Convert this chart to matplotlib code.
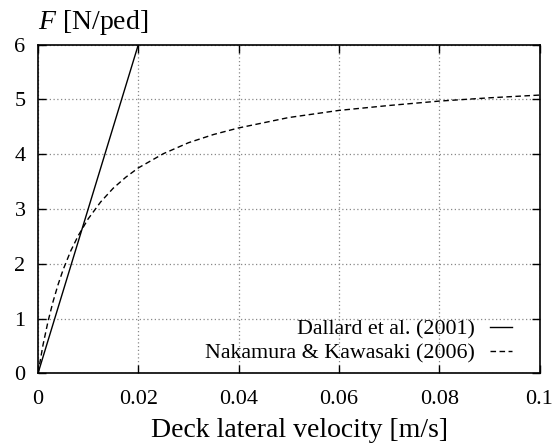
import matplotlib
matplotlib.use("Agg")
import matplotlib.pyplot as plt

plt.rcParams['font.family'] = ['Liberation Serif', 'DejaVu Serif']
plt.rcParams['mathtext.fontset'] = 'custom'
plt.rcParams['mathtext.it'] = 'Liberation Serif:italic'
plt.rcParams['mathtext.rm'] = 'Liberation Serif'

# Dallard et al. (2001): linear
dallard_v = [0.0, 0.02]
dallard_F = [0.0, 6.0]

# Nakamura & Kawasaki (2006): values
nak_v = [0.0, 0.001, 0.002, 0.003, 0.004, 0.005, 0.0065, 0.008, 0.01, 0.0125,
         0.015, 0.0175, 0.02, 0.025, 0.03, 0.035, 0.04, 0.05, 0.06, 0.07,
         0.08, 0.09, 0.1]
nak_F = [0.0, 0.52, 0.95, 1.31, 1.62, 1.89, 2.23, 2.51, 2.82, 3.13,
         3.38, 3.58, 3.75, 4.01, 4.21, 4.36, 4.48, 4.67, 4.80, 4.89,
         4.97, 5.03, 5.08]

xticks = [0, 0.02, 0.04, 0.06, 0.08, 0.1]
xticklabels = ['0', '0.02', '0.04', '0.06', '0.08', '0.1']
yticks = [0, 1, 2, 3, 4, 5, 6]

fig = plt.figure(figsize=(5.55, 4.46), dpi=100)
ax = fig.add_axes([0.0685, 0.163, 0.9036, 0.7368])

ax.plot(dallard_v, dallard_F, color='black', lw=1.0, label='Dallard et al. (2001)')
ax.plot(nak_v, nak_F, color='black', lw=1.0, ls=(0, (4, 2.5)), label='Nakamura & Kawasaki (2006)')

ax.set_xlim(0, 0.1)
ax.set_ylim(0, 6)
ax.set_xticks(xticks)
ax.set_xticklabels(xticklabels, fontsize=16)
ax.set_yticks(yticks)
ax.set_yticklabels([str(v) for v in yticks], fontsize=16)
ax.tick_params(direction='in', length=6, width=1, top=True, right=True, colors='black')
ax.tick_params(axis='x', pad=12)
ax.tick_params(axis='y', pad=9)
ax.grid(True, color='#888888', ls=(0, (1, 2)), lw=0.9)
for s in ax.spines.values():
    s.set_linewidth(1.2)

ax.set_xlabel('Deck lateral velocity [m/s]', fontsize=20)
ax.xaxis.set_label_coords(0.522, -0.135)
fig.text(0.068, 0.934, r'$F$ [N/ped]', fontsize=20, ha='left', va='baseline')

leg = ax.legend(loc='lower right', markerfirst=False, frameon=False, fontsize=15.8,
                handlelength=1.0, handletextpad=0.7, labelspacing=0.15,
                borderpad=0.0, borderaxespad=0.0, bbox_to_anchor=(0.945, 0.03))
for t in leg.get_texts():
    t.set_ha('right')

fig.savefig('out.png', dpi=100)
